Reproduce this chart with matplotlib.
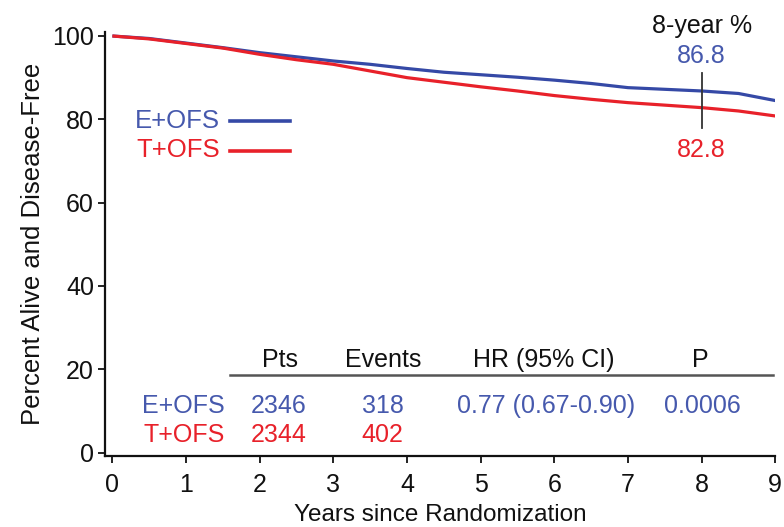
import matplotlib
matplotlib.use("Agg")
import matplotlib.pyplot as plt

plt.rcParams['font.family'] = ['Liberation Sans', 'DejaVu Sans']

years = [0, 0.5, 1, 1.5, 2, 2.5, 3, 3.5, 4, 4.5, 5, 5.5, 6, 6.5, 7, 7.5, 8, 8.5, 9]
e_ofs = [100, 99.4, 98.3, 97.2, 96.0, 95.0, 94.0, 93.2, 92.2, 91.3, 90.7, 90.1, 89.4, 88.6, 87.6, 87.2, 86.8, 86.2, 84.5]
t_ofs = [100, 99.3, 98.2, 97.1, 95.6, 94.3, 93.2, 91.6, 90.0, 88.9, 87.8, 86.8, 85.7, 84.8, 84.0, 83.4, 82.8, 82.0, 80.8]

groups = ["E+OFS", "T+OFS"]
pts = ["2346", "2344"]
events = ["318", "402"]
hr_text = "0.77 (0.67-0.90)"
p_text = "0.0006"
eight_year = ["86.8", "82.8"]
xticks = list(range(0, 10))
yticks = [0, 20, 40, 60, 80, 100]

BLUE = "#3549a6"
BLUE_T = "#4659ad"
RED = "#e8212a"
FS = 18

fig = plt.figure(figsize=(7.84, 5.27), dpi=100)
ax = fig.add_axes([105 / 784, 0.1342, (775.3 - 105) / 784, 0.8054])
ax.plot(years, e_ofs, color=BLUE, lw=2.3, solid_capstyle='butt')
ax.plot(years, t_ofs, color=RED, lw=2.3, solid_capstyle='butt')

ax.set_xlim(-0.1, 9.0)
ax.set_ylim(-0.9, 101)
ax.set_xticks(xticks)
ax.set_yticks(yticks)
ax.tick_params(direction='out', length=5, width=1.3, labelsize=FS, colors='#111111', pad=3)
ax.tick_params(axis='x', pad=7)
for s in ['top', 'right']:
    ax.spines[s].set_visible(False)
for s in ['left', 'bottom']:
    ax.spines[s].set_linewidth(1.6)
    ax.spines[s].set_color('#111111')
ax.set_xlabel("Years since Randomization", fontsize=17.5, labelpad=5, color='#111111')
ax.set_ylabel("Percent Alive and Disease-Free", fontsize=18.5, labelpad=5, color='#111111')

# legend-like labels
ax.text(1.46, 77.8, groups[0], color=BLUE_T, fontsize=18.5, ha='right', va='baseline')
ax.plot([1.6, 2.41], [79.7, 79.7], color=BLUE, lw=2.6)
ax.text(1.46, 71.0, groups[1], color=RED, fontsize=18.5, ha='right', va='baseline')
ax.plot([1.6, 2.41], [72.5, 72.5], color=RED, lw=2.6)

# 8-year annotation
ax.text(8.0, 100.6, "8-year %", fontsize=FS, ha='center', va='baseline', clip_on=False, color='#111111')
ax.text(8.0, 93.4, eight_year[0], color=BLUE_T, fontsize=FS, ha='center', va='baseline')
ax.plot([8.0, 8.0], [77.9, 91.2], color='#333333', lw=1.3)
ax.text(8.0, 70.9, eight_year[1], color=RED, fontsize=FS, ha='center', va='baseline')

# table
hy, r1, r2 = 20.5, 9.5, 2.5
heads = ["Pts", "Events", "HR (95% CI)", "P"]
head_x = [2.28, 3.67, 5.85, 7.98]
for c, h in zip(head_x, heads):
    ax.text(c, hy, h, fontsize=FS, ha='center', va='baseline', color='#111111')
ax.plot([1.6, 8.97], [18.6, 18.6], color='#555555', lw=1.8)
ax.text(1.53, r1, groups[0], color=BLUE_T, fontsize=FS, ha='right', va='baseline')
ax.text(1.53, r2, groups[1], color=RED, fontsize=FS, ha='right', va='baseline')
ax.text(2.26, r1, pts[0], color=BLUE_T, fontsize=FS, ha='center', va='baseline')
ax.text(2.26, r2, pts[1], color=RED, fontsize=FS, ha='center', va='baseline')
ax.text(3.67, r1, events[0], color=BLUE_T, fontsize=FS, ha='center', va='baseline')
ax.text(3.67, r2, events[1], color=RED, fontsize=FS, ha='center', va='baseline')
ax.text(5.89, r1, hr_text, color=BLUE_T, fontsize=FS, ha='center', va='baseline')
ax.text(8.01, r1, p_text, color=BLUE_T, fontsize=FS, ha='center', va='baseline')

fig.savefig("out.png", dpi=100)
